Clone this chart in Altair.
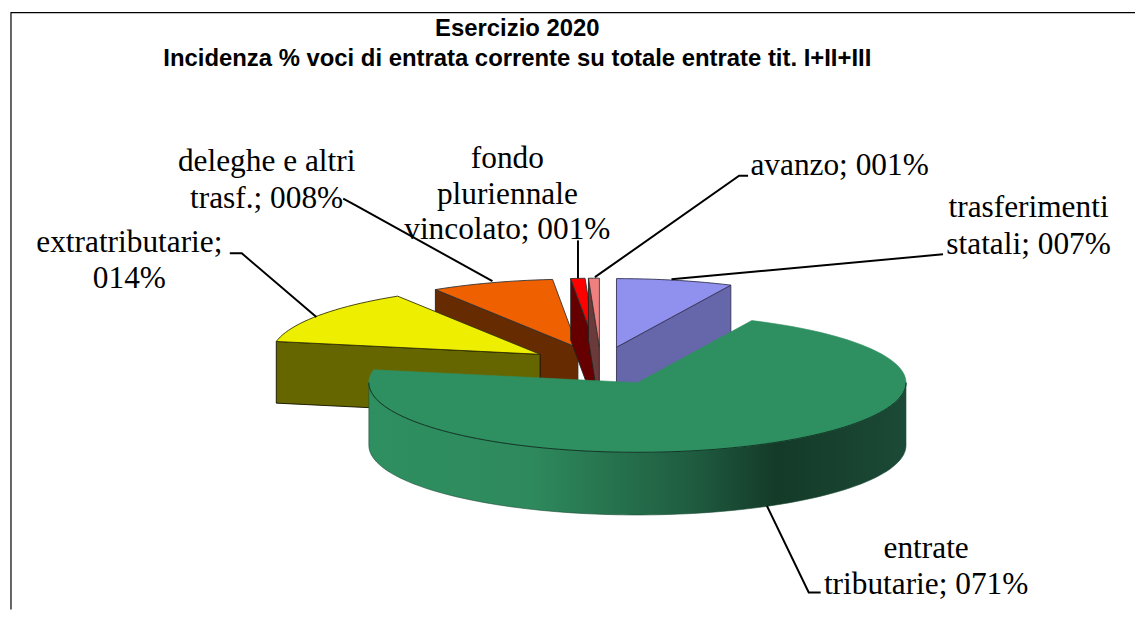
import numpy as np
import pandas as pd
import altair as alt

# values (percent of the total), in clockwise order from the top of the pie
categories = ["trasferimenti statali", "entrate tributarie", "extratributarie",
              "deleghe e altri trasf.", "fondo pluriennale vincolato", "avanzo"]
shares = [7.0, 71.0, 13.1, 7.4, 0.85, 0.65]

# colours and 3D layout of the pie
top_colours = ["#9090EE", "#2E8F60", "#EEEE00", "#EE6000", "#FF0000", "#F08080"]
side_colours = ["#6666AA", "#2E8F60", "#666600", "#662B00", "#660000", "#6B3A3A"]
explode = [72, 81, 74, 72, 72, 72]
depth = [63, 63, 62, 62, 62, 62]
CENTRE = (601, 365)
RX, RY_BACK, RY_FRONT, TILT = 270, 69, 70, 0.25

title_lines = ["Esercizio 2020", "Incidenza % voci di entrata corrente su totale entrate tit. I+II+III"]
label_lines = [
    ("trasferimenti", 1031, 208), ("statali; 007%", 1031, 245),
    ("avanzo; 001%", 841, 165),
    ("fondo", 507, 158), ("pluriennale", 507, 194), ("vincolato; 001%", 507, 230),
    ("deleghe e altri", 265, 161), ("trasf.; 008%", 265, 198),
    ("extratributarie;", 127, 243), ("014%", 127, 279),
    ("entrate", 928, 550), ("tributarie; 071%", 928, 586),
]
leaders = [
    [(672, 279), (945, 254)],
    [(595, 277), (740, 175), (749, 175)],
    [(578, 278), (578, 240)],
    [(492, 281), (355, 205), (342, 198)],
    [(315, 317), (240, 253), (228, 253)],
    [(768, 507), (810, 594), (822, 594)],
]
frame = [[(8, 611), (8, 11), (1138, 11)]]

X_SCALE = alt.Scale(domain=[8, 1138], range=[0, 1130], nice=False, zero=False)
Y_SCALE = alt.Scale(domain=[8, 611], range=[0, 603], nice=False, zero=False)
X = alt.X("x:Q", scale=X_SCALE, axis=None)
Y = alt.Y("y:Q", scale=Y_SCALE, axis=None)


def rim(apex, deg):
    a = np.radians(deg)
    ry = RY_BACK if np.cos(a) > 0 else RY_FRONT
    return (apex[0] + RX * np.sin(a), apex[1] - ry * np.cos(a))


def arc(apex, a0, a1):
    n = max(2, int(abs(a1 - a0) / 2) + 2)
    return [rim(apex, d) for d in np.linspace(a0, a1, n)]


def down(points, h):
    return [(x, y + h) for x, y in points]


def polygon(points, fill, stroke, width=0.9):
    pts = list(points) + [points[0]]
    df = pd.DataFrame({"x": [p[0] for p in pts], "y": [p[1] for p in pts], "i": range(len(pts))})
    return alt.Chart(df).mark_line(fill=fill, stroke=stroke, strokeWidth=width, interpolate="linear").encode(
        x=X, y=Y, order="i:Q")


def polyline(points, stroke="#000000", width=2.0):
    df = pd.DataFrame({"x": [p[0] for p in points], "y": [p[1] for p in points], "i": range(len(points))})
    return alt.Chart(df).mark_line(stroke=stroke, strokeWidth=width).encode(x=X, y=Y, order="i:Q")


# slice geometry from the shares
edges = np.concatenate([[0], np.cumsum(shares)]) * 3.6
apexes = []
for i in range(len(shares)):
    mid = np.radians((edges[i] + edges[i + 1]) / 2)
    apexes.append((CENTRE[0] + explode[i] * np.sin(mid),
                   CENTRE[1] - explode[i] * TILT * np.cos(mid)))

layers = []
for p in frame:
    layers.append(polyline(p, "#000000", 1.2))

GREEN = alt.Gradient(
    gradient="linear", x1=0, x2=1, y1=0, y2=0,
    stops=[alt.GradientStop(offset=0, color="#2E8F60"),
           alt.GradientStop(offset=0.3, color="#2E8A5D"),
           alt.GradientStop(offset=0.6, color="#1F5C40"),
           alt.GradientStop(offset=0.76, color="#143A28"),
           alt.GradientStop(offset=1, color="#1B4A36")])

for i in [3, 4, 5]:  # back-left slices: orange, red, pink
    s0 = rim(apexes[i], edges[i])
    face = [s0, apexes[i], (apexes[i][0], apexes[i][1] + depth[i]), (s0[0], s0[1] + depth[i])]
    layers.append(polygon(face, side_colours[i], "#222222"))
    layers.append(polygon([apexes[i]] + arc(apexes[i], edges[i], edges[i + 1]), top_colours[i], "#333333"))

# trasferimenti: the end cut faces the viewer
e0 = rim(apexes[0], edges[1])
face = [apexes[0], e0, (e0[0], e0[1] + depth[0]), (apexes[0][0], apexes[0][1] + depth[0])]
layers.append(polygon(face, side_colours[0], "#333355"))
layers.append(polygon([apexes[0]] + arc(apexes[0], edges[0], edges[1]), top_colours[0], "#333355"))

# extratributarie
s0 = rim(apexes[2], edges[2])
face = [s0, apexes[2], (apexes[2][0], apexes[2][1] + depth[2]), (s0[0], s0[1] + depth[2])]
layers.append(polygon(face, side_colours[2], "#111100"))
layers.append(polygon([apexes[2]] + arc(apexes[2], edges[2], edges[3]), top_colours[2], "#333300"))

# entrate tributarie, on top of everything
front = arc(apexes[1], 90, 270)
layers.append(polygon(front + down(front, depth[1])[::-1], GREEN, "#1F4D37", 0.6))
layers.append(polygon([apexes[1]] + arc(apexes[1], edges[1], edges[2]), top_colours[1], "#2E8F60", 0.6))
layers.append(polyline(arc(apexes[1], 90, 270), "#123526", 1.0))

for l in leaders:
    layers.append(polyline(l))

labels = pd.DataFrame(label_lines, columns=["t", "x", "y"])
layers.append(alt.Chart(labels).mark_text(font="Liberation Serif", fontSize=31.5, color="#000000",
                                          align="center", baseline="middle").encode(x=X, y=Y, text="t:N"))
titles = pd.DataFrame({"t": title_lines, "x": [517, 517], "y": [28, 58]})
layers.append(alt.Chart(titles).mark_text(font="Liberation Sans", fontSize=24, fontWeight="bold", color="#000000",
                                          align="center", baseline="middle").encode(x=X, y=Y, text="t:N"))

chart = alt.layer(*layers).properties(width=1130, height=603, padding=0).configure_view(stroke=None)
chart.save("out.html", embed_options={"renderer": "svg", "actions": False})
